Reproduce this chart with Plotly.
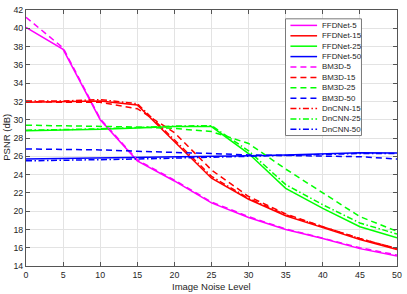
import plotly.graph_objects as go

# ---------------- data ----------------
noise = [0, 5, 10, 15, 20, 25, 30, 35, 40, 45, 50]

ffdnet_5 = [40.1, 37.7, 30.0, 25.5, 23.3, 20.9, 19.3, 18.0, 17.0, 15.9, 15.1]
ffdnet_15 = [31.9, 31.95, 32.05, 31.6, 27.6, 23.6, 21.3, 19.5, 18.2, 16.9, 15.8]
ffdnet_25 = [28.8, 28.85, 28.95, 29.1, 29.25, 29.25, 26.3, 22.5, 20.3, 18.3, 17.1]
ffdnet_50 = [25.7, 25.75, 25.8, 25.85, 25.9, 25.95, 26.05, 26.15, 26.25, 26.4, 26.35]

bm3d_5 = [41.2, 37.85, 30.1, 25.6, 23.4, 21.0, 19.4, 18.05, 17.05, 16.0, 15.2]
bm3d_15 = [32.0, 31.9, 31.9, 31.2, 28.6, 24.5, 21.6, 19.7, 18.3, 17.0, 15.9]
bm3d_25 = [29.4, 29.35, 29.3, 29.2, 29.05, 28.7, 27.4, 24.6, 22.0, 19.4, 17.8]
bm3d_50 = [26.8, 26.75, 26.7, 26.55, 26.45, 26.3, 26.15, 26.1, 26.05, 25.95, 25.7]

dncnn_15 = [32.05, 32.05, 32.2, 31.75, 27.8, 23.8, 21.4, 19.6, 18.3, 17.0, 15.9]
dncnn_25 = [28.85, 28.9, 29.0, 29.15, 29.3, 29.35, 26.6, 22.9, 20.7, 18.7, 17.5]
dncnn_50 = [25.5, 25.55, 25.6, 25.7, 25.8, 25.9, 26.0, 26.1, 26.2, 26.3, 26.3]

x_ticks = [0, 5, 10, 15, 20, 25, 30, 35, 40, 45, 50]
y_ticks = [14, 16, 18, 20, 22, 24, 26, 28, 30, 32, 34, 36, 38, 40, 42]

# ---------------- styles ----------------
MAG, RED, GRN, BLU = "#ff00ff", "#ff0000", "#00ff00", "#0000ff"
SOLID = "solid"
DASH = "6px,4px"
DASHDOT = "6px,2.5px,1.5px,2.5px"

series = [
    ("FFDNet-5", ffdnet_5, MAG, SOLID),
    ("FFDNet-15", ffdnet_15, RED, SOLID),
    ("FFDNet-25", ffdnet_25, GRN, SOLID),
    ("FFDNet-50", ffdnet_50, BLU, SOLID),
    ("BM3D-5", bm3d_5, MAG, DASH),
    ("BM3D-15", bm3d_15, RED, DASH),
    ("BM3D-25", bm3d_25, GRN, DASH),
    ("BM3D-50", bm3d_50, BLU, DASH),
    ("DnCNN-15", dncnn_15, RED, DASHDOT),
    ("DnCNN-25", dncnn_25, GRN, DASHDOT),
    ("DnCNN-50", dncnn_50, BLU, DASHDOT),
]

W, H = 407, 294
ML, MR, MT, MB = 26, 5, 5, 28
PW, PH = W - ML - MR, H - MT - MB
FONT = "Liberation Sans, Arial, sans-serif"
TXT = "#262626"


def px2paper_x(px):
    return (px - ML) / PW


def px2paper_y(py):
    return (H - MB - py) / PH


fig = go.Figure()
for name, ys, color, dash in series:
    fig.add_trace(go.Scatter(
        x=noise, y=ys, mode="lines", name=name, showlegend=False, hoverinfo="skip",
        line=dict(color=color, width=1.5, dash=dash),
    ))

# ---------------- custom compact legend ----------------
shapes = []
annotations = []
box_l, box_r, box_t, box_b = 289, 366, 14, 133
shapes.append(dict(type="rect", xref="paper", yref="paper",
                   x0=px2paper_x(box_l), x1=px2paper_x(box_r),
                   y0=px2paper_y(box_b), y1=px2paper_y(box_t),
                   line=dict(color="#7a7a7a", width=1), fillcolor="white",
                   layer="above"))
for i, (name, ys, color, dash) in enumerate(series):
    cy = 20.7 + 10.6 * i
    shapes.append(dict(type="line", xref="paper", yref="paper",
                       x0=px2paper_x(294), x1=px2paper_x(321),
                       y0=px2paper_y(cy), y1=px2paper_y(cy),
                       line=dict(color=color, width=1.5, dash=dash),
                       layer="above"))
    annotations.append(dict(xref="paper", yref="paper",
                            x=px2paper_x(324), y=px2paper_y(cy),
                            xanchor="left", yanchor="middle", showarrow=False,
                            text=name, font=dict(family=FONT, size=7.9, color=TXT)))

# axis titles
annotations.append(dict(xref="paper", yref="paper", x=px2paper_x(214), y=px2paper_y(287),
                        xanchor="center", yanchor="middle", showarrow=False,
                        text="Image Noise Level", font=dict(family=FONT, size=9.5, color=TXT)))
annotations.append(dict(xref="paper", yref="paper", x=px2paper_x(6), y=px2paper_y(135),
                        xanchor="center", yanchor="middle", showarrow=False, textangle=-90,
                        text="PSNR (dB)", font=dict(family=FONT, size=9.5, color=TXT)))

axis_common = dict(
    showline=True, linecolor="#555555", linewidth=1, mirror="ticks",
    ticks="inside", ticklen=4, tickcolor="#555555", tickwidth=1,
    showgrid=True, gridcolor="#e3e3e3", gridwidth=1, zeroline=False,
    tickfont=dict(family=FONT, size=8.8, color=TXT),
)

fig.update_layout(
    width=W, height=H,
    margin=dict(l=ML, r=MR, t=MT, b=MB, pad=0),
    paper_bgcolor="white", plot_bgcolor="white",
    xaxis=dict(range=[0, 50], tickvals=x_ticks, ticktext=[str(v) for v in x_ticks], **axis_common),
    yaxis=dict(range=[14, 42], tickvals=y_ticks, ticktext=[str(v) for v in y_ticks], **axis_common),
    shapes=shapes, annotations=annotations,
    showlegend=False, hovermode=False,
)

fig.write_html("out.html", config={"displayModeBar": False, "staticPlot": True},
               post_script="document.body.style.margin='0';document.body.style.overflow='hidden';")
